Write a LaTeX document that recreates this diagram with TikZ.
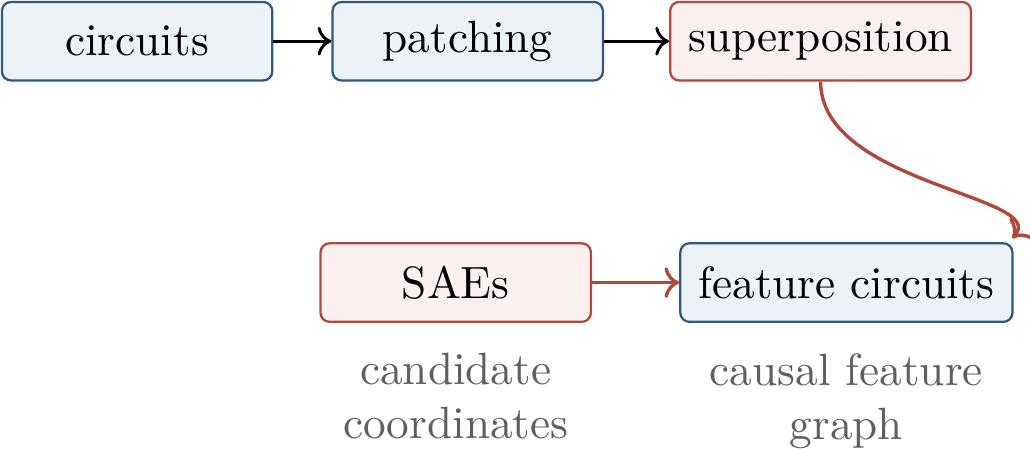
\documentclass[tikz,border=0pt]{standalone}
\usepackage{tikz}
\usetikzlibrary{arrows.meta,positioning}

\definecolor{stepblue}{RGB}{46,88,132}
\definecolor{stepbluefill}{RGB}{237,242,246}
\definecolor{stepred}{RGB}{176,72,60}
\definecolor{stepredfill}{RGB}{249,240,239}
\definecolor{notegray}{RGB}{95,95,95}

\begin{document}
\begin{tikzpicture}[
  node distance=4.5mm and 5mm,
  box/.style={draw=stepblue, fill=stepbluefill, rounded corners=2pt, line width=0.5pt,
              minimum width=21mm, minimum height=6.1mm, inner xsep=4pt},
  redbox/.style={box, draw=stepred, fill=stepredfill},
  note/.style={align=center, text=notegray},
  arrow/.style={->, line width=0.65pt},
  redarrow/.style={arrow, draw=stepred, line width=0.75pt}
]
\useasboundingbox (-10.65mm,3.2mm) rectangle ++(80mm,-34.8mm);

\node[box] (circuits) {circuits};
\node[box, right=4.5mm of circuits] (patching) {patching};
\node[redbox, right=5.05mm of patching] (superposition) {superposition};
\node[redbox, below=12.47mm of patching, xshift=-0.93mm] (saes) {SAEs};
\node[box, right=6.77mm of saes] (features) {feature circuits};
\node[note, below=1.1mm of saes] (candidates) {candidate\\coordinates};
\node[note, below=1.1mm of features] (graph) {causal feature\\graph};

\draw[arrow] (circuits) -- (patching);
\draw[arrow] (patching) -- (superposition);
\draw[redarrow] (superposition.south) .. controls +(0,-8mm) and +(3mm,3.3mm)
  .. ([xshift=-0.1mm,yshift=0.3mm]features.north east);
\draw[redarrow] (saes) -- (features);
\end{tikzpicture}
\end{document}
